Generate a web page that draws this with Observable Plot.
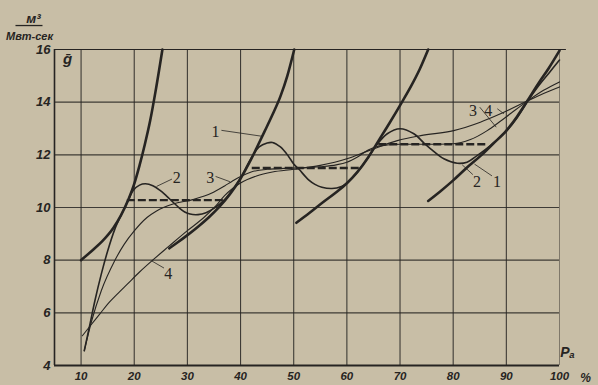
<!DOCTYPE html>
<html><head><meta charset="utf-8">
<script src="https://cdn.jsdelivr.net/npm/d3@7"></script>
<script src="https://cdn.jsdelivr.net/npm/@observablehq/plot@0.6"></script>
<style>
html,body{margin:0;padding:0;background:#c8bea6;}
#chart svg{display:block;}
</style></head><body><div id="chart"></div>
<script>
// Axis ticks
const xTicks = [10,20,30,40,50,60,70,80,90,100];
const yTicks = [4,6,8,10,12,14,16];
const gridY = [6,8,10,12,14];

// Bold curves (individual operating regimes)
const bold1 = [[10,8],[12,8.35],[14,8.72],[16,9.2],[17.5,9.7],[19,10.35],[20,10.9],[21,11.6],[22,12.4],[23,13.3],[24,14.4],[25.3,16]];
const bold2 = [[26.6,8.45],[28,8.65],[30,8.95],[32,9.27],[34,9.62],[36,10.02],[38,10.5],[40,11.1],[41.7,11.72],[43,12.25],[44.5,12.88],[46,13.52],[47.5,14.22],[48.8,15.0],[50.1,16]];
const bold3 = [[50.5,9.42],[53,9.8],[55.5,10.2],[58,10.58],[60,10.92],[62,11.35],[64,11.9],[66,12.55],[68,13.2],[70.5,14.05],[72,14.58],[73.7,15.25],[75.3,16]];
const bold4 = [[75.3,10.25],[77.5,10.6],[80,11.03],[82.5,11.5],[85.2,11.97],[87.5,12.42],[90,12.92],[92,13.45],[93.8,14.0],[96,14.7],[98,15.3],[100,15.96]];

// Curve 2 (wavy)
const curve2 = [[10.6,4.56],[11.7,5.6],[12.6,6.46],[13.8,7.47],[15,8.35],[16.3,9.15],[17.5,9.7],[18.7,10.2],[19.8,10.65],[21,10.85],[22.1,10.9],[23.5,10.83],[24.8,10.66],[26,10.45],[27.3,10.2],[28.5,9.98],[29.5,9.83],[30.5,9.75],[32,9.73],[33.5,9.8],[35,9.97],[36,10.12],[37,10.3],[38.5,10.68],[40,11.1],[41,11.5],[42,11.87],[43.5,12.3],[45,12.45],[46,12.47],[47.5,12.3],[49,11.95],[50,11.65],[51,11.45],[52.8,11.05],[54,10.88],[55.3,10.77],[57.2,10.72],[59,10.8],[60,10.92],[62,11.35],[64,11.9],[65.5,12.35],[67.6,12.8],[70,12.99],[72.6,12.8],[74.5,12.45],[75.75,12.23],[78.25,11.85],[80.75,11.68],[82.6,11.72],[84.5,11.97],[87,12.35],[90,12.9],[92,13.4],[94.1,14.06],[96,14.6],[98,15.1],[100,15.6]];
// Curve 3
const curve3 = [[10.6,4.56],[12,5.7],[13.8,6.84],[16.3,7.97],[18.1,8.6],[20,9.11],[22.4,9.62],[24.2,9.87],[27.3,10.13],[31,10.3],[34.6,10.55],[37,10.82],[38.3,10.98],[40,11.18],[42,11.35],[45,11.45],[50,11.5],[55,11.55],[58,11.62],[60,11.72],[62,11.92],[64,12.18],[66,12.33],[70,12.4],[75,12.4],[80,12.42],[83.25,12.58],[86.4,12.92],[88.25,13.18],[91,13.6],[94.1,14.06],[97,14.45],[100,14.77]];
// Curve 4
const curve4 = [[10.25,5.13],[11.7,5.5],[13.5,5.95],[15,6.33],[17,6.75],[18.7,7.09],[21,7.55],[23.3,7.97],[26.6,8.54],[30,9.12],[33,9.6],[35.3,10.05],[37,10.45],[38.5,10.72],[40,10.93],[43,11.2],[46,11.35],[50,11.45],[55,11.6],[60,11.85],[64,12.15],[69.5,12.54],[73.9,12.73],[80.1,12.92],[85.1,13.24],[88.9,13.56],[94.1,14.06],[97,14.33],[100,14.58]];

// Dashed optimum segments
const dashX1 = [18.7, 42.2, 66];
const dashX2 = [36.9, 62.4, 86.5];
const dashY = [10.28, 11.5, 12.4];

// Curve labels and leaders
const labelText = ["1","2","3","4","3","4","2","1"];
const labelX = [35.3, 28, 34.3, 26.4, 83.75, 86.6, 84.5, 88.25];
const labelY = [12.89, 11.11, 11.14, 7.47, 13.66, 13.66, 10.98, 10.96];
const leadX1 = [36.4, 27.1, 35.3, 25.6, 85.0, 88.3, 83.7, 87.3];
const leadY1 = [12.93, 11.08, 11.18, 7.7, 13.81, 13.75, 11.25, 11.2];
const leadX2 = [44.2, 24.2, 38.0, 23.3, 88.1, 89.55, 81.7, 84.0];
const leadY2 = [12.7, 10.8, 10.98, 7.97, 13.05, 13.56, 11.62, 11.65];

// Unit fraction bar (in chart coordinates, above the frame)
const unitBarX = [-2.34, 2.74];
const unitBarY = 16.91;

const pts = a => a.map(([x, y]) => ({x, y}));
const dashes = dashY.map((y, i) => ({x1: dashX1[i], x2: dashX2[i], y}));
const labels = labelText.map((t, i) => ({t, x: labelX[i], y: labelY[i]}));
const leaders = labelText.map((t, i) => ({x1: leadX1[i], y1: leadY1[i], x2: leadX2[i], y2: leadY2[i]}));

const ink = "#262422";
const tickFont = {fontFamily: "Liberation Sans, Arial, sans-serif", fontWeight: "bold", fontStyle: "italic"};
const mid = {textAnchor: "middle", lineAnchor: "middle", fill: ink};

const line = (d, w, curve) => Plot.line(pts(d), {x: "x", y: "y", stroke: ink, strokeWidth: w, curve});

const plot = Plot.plot({
  width: 598, height: 385,
  marginLeft: 54, marginRight: 39, marginTop: 49, marginBottom: 20,
  style: {background: "transparent", color: ink, fontFamily: "Liberation Sans, Arial, sans-serif", overflow: "visible"},
  x: {domain: [5, 100]},
  y: {domain: [4, 16]},
  marks: [
    // grid
    Plot.ruleX(xTicks.filter(d => d < 100), {y1: 4, y2: 16, stroke: ink, strokeWidth: 1.1, strokeOpacity: 0.85}),
    Plot.ruleX([100], {y1: 4, y2: 16, stroke: ink, strokeWidth: 1, strokeOpacity: 0.45}),
    Plot.ruleY(gridY, {x1: 5, x2: 100, stroke: ink, strokeWidth: 1.1, strokeOpacity: 0.85}),
    Plot.ruleY([16], {x1: 5, x2: 101.3, stroke: ink, strokeWidth: 1.2}),
    Plot.ruleY([4], {x1: 5, x2: 100, stroke: ink, strokeWidth: 1.8}),
    Plot.ruleX([5], {y1: 4, y2: 16, stroke: ink, strokeWidth: 1.6}),
    // axes
    Plot.axisX(xTicks, {tickSize: 0, tickPadding: 6, fontSize: 11.5, label: null, ...tickFont}),
    Plot.axisY(yTicks, {tickSize: 0, tickPadding: 4, fontSize: 13, label: null, ...tickFont}),
    // curves
    line(curve4, 1.1, "monotone-x"),
    line(curve3, 1.1, "monotone-x"),
    line(curve2, 1.6, "catmull-rom"),
    Plot.ruleY(dashes, {y: "y", x1: "x1", x2: "x2", stroke: ink, strokeWidth: 2.4, strokeDasharray: "8,3"}),
    line(bold1, 2.6, "monotone-x"), line(bold2, 2.6, "monotone-x"),
    line(bold3, 2.6, "monotone-x"), line(bold4, 2.6, "monotone-x"),
    // labels
    Plot.link(leaders, {x1: "x1", y1: "y1", x2: "x2", y2: "y2", stroke: ink, strokeWidth: 0.8}),
    Plot.text(labels, {x: "x", y: "y", text: "t", fontSize: 16, fontFamily: "Liberation Serif, Times New Roman, serif", fill: ink}),
    // unit annotations
    Plot.text(["ḡ"], {frameAnchor: "top-left", dx: 13, dy: 10, fontSize: 15, ...tickFont, ...mid}),
    Plot.text(["м³"], {frameAnchor: "top-left", dx: -21, dy: -31, fontSize: 13.5, ...tickFont, ...mid}),
    Plot.link([{x1: unitBarX[0], x2: unitBarX[1], y: unitBarY}], {x1: "x1", x2: "x2", y1: "y", y2: "y", stroke: ink, strokeWidth: 1.3}),
    Plot.text(["Мвт-сек"], {frameAnchor: "top-left", dx: -25, dy: -13, fontSize: 11, ...tickFont, ...mid}),
    Plot.text(["Pₐ"], {frameAnchor: "bottom-right", dx: 8, dy: -13, fontSize: 14, ...tickFont, ...mid}),
    Plot.text(["%"], {frameAnchor: "bottom-right", dx: 26, dy: 13, fontSize: 12, ...tickFont, ...mid})
  ]
});
document.getElementById("chart").appendChild(plot);
</script>
</body></html>
